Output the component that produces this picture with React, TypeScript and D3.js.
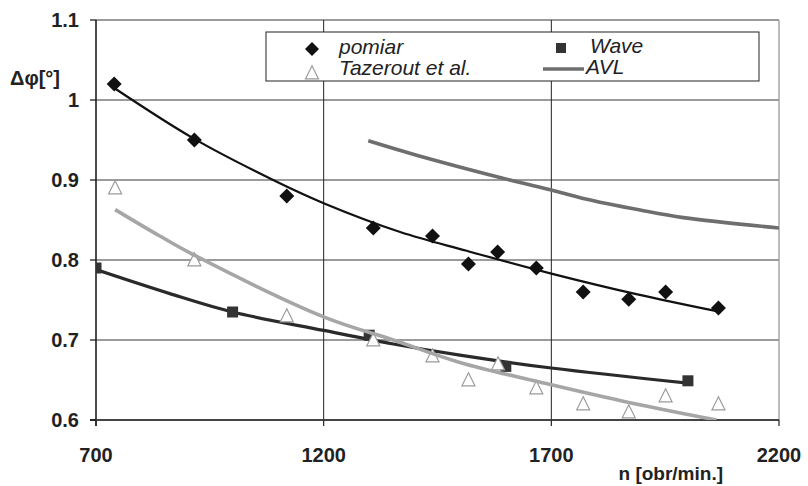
import * as d3 from "d3";

// measured points
const pomiarN = [740, 916, 1119, 1309, 1439, 1518, 1582, 1667, 1770, 1870, 1951, 2067];
const pomiarV = [1.02, 0.95, 0.88, 0.84, 0.83, 0.795, 0.81, 0.79, 0.76, 0.751, 0.76, 0.74];

const waveN = [700, 1000, 1300, 1600, 2000];
const waveV = [0.79, 0.735, 0.706, 0.667, 0.649];

const tazN = [742, 916, 1119, 1309, 1439, 1518, 1583, 1667, 1770, 1870, 1951, 2067];
const tazV = [0.89, 0.8, 0.73, 0.7, 0.68, 0.65, 0.67, 0.64, 0.62, 0.61, 0.63, 0.62];

// curves
const pomiarFitN = [740, 914, 1089, 1200, 1368, 1514, 1700, 1889, 2063];
const pomiarFitV = [1.015, 0.952, 0.9, 0.871, 0.835, 0.8115, 0.783, 0.757, 0.736];

const waveFitN = [700, 862, 1000, 1200, 1353, 1499, 1700, 2000];
const waveFitV = [0.788, 0.758, 0.735, 0.712, 0.695, 0.681, 0.665, 0.646];

const tazFitN = [742, 840, 916, 1200, 1353, 1499, 1700, 1870, 2063];
const tazFitV = [0.863, 0.83, 0.806, 0.729, 0.7, 0.672, 0.644, 0.622, 0.6];

const avlN = [1298, 1404, 1609, 1700, 1770, 1895, 1990, 2200];
const avlV = [0.949, 0.931, 0.9, 0.8875, 0.877, 0.8625, 0.853, 0.84];

const xTicks = [700, 1200, 1700, 2200];
const yTicks = [0.6, 0.7, 0.8, 0.9, 1.0, 1.1];

const FONT = "'Liberation Sans', Arial, sans-serif";

type Pt = { n: number; v: number };
const zip = (ns: number[], vs: number[]): Pt[] => ns.map((n, i) => ({ n, v: vs[i] }));

export default function App() {
  const width = 808;
  const height = 486;
  const x = d3.scaleLinear().domain([700, 2200]).range([96, 779]);
  const y = d3.scaleLinear().domain([0.6, 1.1]).range([420, 20]);

  const line = d3
    .line<Pt>()
    .x((d) => x(d.n))
    .y((d) => y(d.v))
    .curve(d3.curveCatmullRom.alpha(0.5));

  const diamond = (cx: number, cy: number, r: number) =>
    `M${cx},${cy - r}L${cx + r},${cy}L${cx},${cy + r}L${cx - r},${cy}Z`;
  const triangle = (cx: number, cy: number, s: number) =>
    `M${cx},${cy - s * 0.55}L${cx + s / 2},${cy + s * 0.45}L${cx - s / 2},${cy + s * 0.45}Z`;

  return (
    <svg
      width={width}
      height={height}
      style={{ position: "absolute", left: 0, top: 0, background: "#fff" }}
      fontFamily={FONT}
    >
      <defs>
        <clipPath id="plot">
          <rect x={96} y={20} width={683} height={400} />
        </clipPath>
      </defs>

      {/* grid */}
      {yTicks.map((t) => (
        <line key={t} x1={96} x2={779} y1={y(t)} y2={y(t)} stroke="#7a7a7a" strokeWidth={1.3} />
      ))}
      {xTicks.slice(1, -1).map((t) => (
        <line key={t} x1={x(t)} x2={x(t)} y1={20} y2={420} stroke="#222" strokeWidth={1} />
      ))}
      <line x1={779} x2={779} y1={20} y2={420} stroke="#9a9a9a" strokeWidth={1.3} />

      {/* axes */}
      <line x1={96} x2={96} y1={20} y2={426} stroke="#111" strokeWidth={1.5} />
      <line x1={90} x2={779} y1={420} y2={420} stroke="#444" strokeWidth={1.8} />
      {yTicks.map((t) => (
        <g key={t}>
          <line x1={90} x2={96} y1={y(t)} y2={y(t)} stroke="#111" strokeWidth={1.2} />
          <text
            x={79}
            y={y(t)}
            dy="0.36em"
            textAnchor="end"
            fontSize={20}
            fontWeight="bold"
            fill="#222"
          >
            {d3.format("")(t)}
          </text>
        </g>
      ))}
      {xTicks.map((t) => (
        <g key={t}>
          <line x1={x(t)} x2={x(t)} y1={420} y2={426} stroke="#222" strokeWidth={1.2} />
          <text x={x(t)} y={462} textAnchor="middle" fontSize={20} fontWeight="bold" fill="#222">
            {t}
          </text>
        </g>
      ))}
      <text x={723} y={480} textAnchor="end" fontSize={19} fontWeight="bold" fill="#222">
        n [obr/min.]
      </text>
      <text x={10} y={85} fontSize={20} fontWeight="bold" fill="#222">
        Δφ[°]
      </text>

      <g clipPath="url(#plot)">
        {/* pomiar markers */}
        {zip(pomiarN, pomiarV).map((d, i) => (
          <path key={i} d={diamond(x(d.n), y(d.v), 7.5)} fill="#111" />
        ))}
        {/* Wave */}
        <path
          d={line(zip(waveFitN, waveFitV)) ?? ""}
          fill="none"
          stroke="#2a2a2a"
          strokeWidth={3.2}
        />
        {zip(waveN, waveV).map((d, i) => (
          <rect key={i} x={x(d.n) - 5.5} y={y(d.v) - 5.5} width={11} height={11} fill="#333" />
        ))}
        {/* Tazerout et al. */}
        {zip(tazN, tazV).map((d, i) => (
          <path
            key={i}
            d={triangle(x(d.n), y(d.v), 13)}
            fill="#fff"
            stroke="#9a9a9a"
            strokeWidth={1.2}
          />
        ))}
        <path
          d={line(zip(tazFitN, tazFitV)) ?? ""}
          fill="none"
          stroke="#a6a6a6"
          strokeWidth={3.6}
        />
        {/* pomiar fit */}
        <path
          d={line(zip(pomiarFitN, pomiarFitV)) ?? ""}
          fill="none"
          stroke="#111"
          strokeWidth={2.2}
        />
        {/* AVL */}
        <path d={line(zip(avlN, avlV)) ?? ""} fill="none" stroke="#6e6e6e" strokeWidth={3.6} />
      </g>

      {/* legend */}
      <rect x={266} y={32} width={493} height={49} fill="#fff" stroke="#222" strokeWidth={1} />
      <path d={diamond(312, 49, 7)} fill="#111" />
      <text x={339} y={54} fontSize={21} fontStyle="italic" fill="#222">
        pomiar
      </text>
      <path d={triangle(312, 73, 13)} fill="#fff" stroke="#9a9a9a" strokeWidth={1.2} />
      <text x={339} y={75} fontSize={21} fontStyle="italic" fill="#222">
        Tazerout et al.
      </text>
      <rect x={556} y={43} width={10} height={10} fill="#333" />
      <text x={590} y={53} fontSize={21} fontStyle="italic" fill="#222">
        Wave
      </text>
      <line x1={543} x2={584} y1={69} y2={69} stroke="#6e6e6e" strokeWidth={3.6} />
      <text x={586} y={74} fontSize={21} fontStyle="italic" fill="#222">
        AVL
      </text>
    </svg>
  );
}
